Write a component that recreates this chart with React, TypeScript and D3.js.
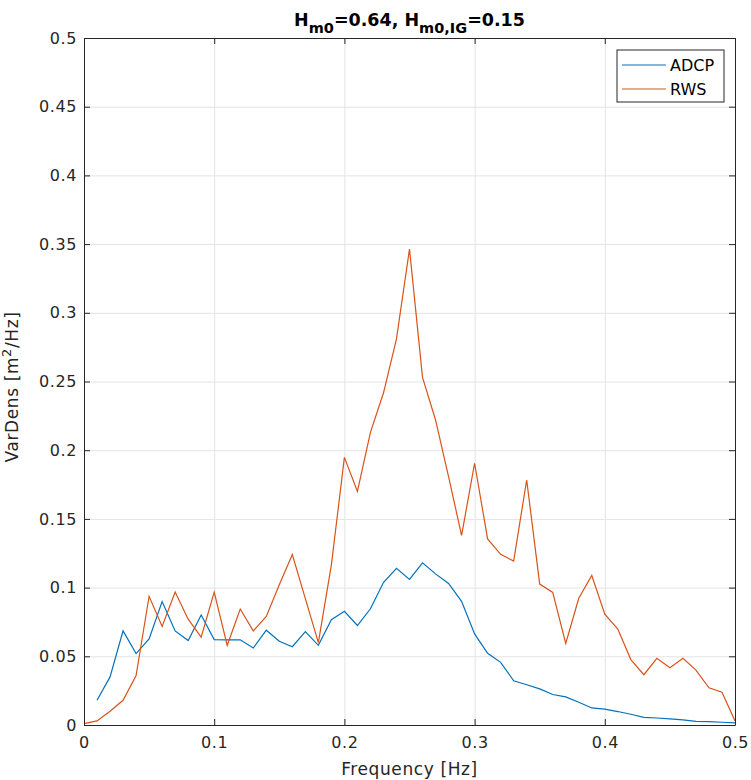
import { useRef, useEffect } from 'react';
import * as d3 from 'd3';

const freqAdcp = d3.range(1, 51).map(i => i / 100);
const freqRws = d3.range(0, 51).map(i => i / 100);

const adcp = [
  0.018, 0.035, 0.0685, 0.052, 0.0627, 0.0898, 0.0685, 0.0615, 0.080, 0.0622,
  0.062, 0.062, 0.056, 0.069, 0.061, 0.057, 0.068, 0.058, 0.0766, 0.0827,
  0.0724, 0.0846, 0.1037, 0.114, 0.106, 0.118, 0.110, 0.103, 0.090, 0.0663,
  0.0522, 0.0456, 0.0322, 0.0293, 0.0263, 0.0222, 0.0205, 0.0166, 0.0124, 0.0115,
  0.0098, 0.0078, 0.0056, 0.0051, 0.0044, 0.0037, 0.0027, 0.0024, 0.002, 0.0015,
];

const rws = [
  0.001, 0.003, 0.010, 0.018, 0.036, 0.0937, 0.0717, 0.0968, 0.077, 0.064,
  0.0968, 0.058, 0.0844, 0.0685, 0.079, 0.102, 0.124, 0.092, 0.060, 0.1165,
  0.1948, 0.170, 0.213, 0.2416, 0.281, 0.3464, 0.253, 0.222, 0.1807, 0.138,
  0.1905, 0.1354, 0.1242, 0.1193, 0.1783, 0.1026, 0.0965, 0.0593, 0.0922, 0.1088,
  0.0807, 0.0698, 0.0476, 0.0366, 0.0485, 0.0417, 0.0485, 0.040, 0.0271, 0.0239,
  0.003,
];

const xTicks = [0, 0.1, 0.2, 0.3, 0.4, 0.5];
const yTicks = d3.range(0, 11).map(i => i * 0.05);

const C_ADCP = '#0072BD';
const C_RWS = '#D95319';
const AX = '#262626';
const FONT = 'DejaVu Sans, Verdana, sans-serif';

export default function App() {
  const svgRef = useRef<SVGSVGElement>(null);

  useEffect(() => {
    document.body.style.margin = '0';
    if (!svgRef.current) return;
    const margin = { top: 38, right: 16, bottom: 55, left: 84 };
    const W = 751, H = 780;
    const width = W - margin.left - margin.right;
    const height = H - margin.top - margin.bottom;

    const svg = d3.select(svgRef.current);
    svg.selectAll('*').remove();
    const g = svg.append('g').attr('transform', `translate(${margin.left},${margin.top})`);

    const x = d3.scaleLinear().domain([0, 0.5]).range([0, width]);
    const y = d3.scaleLinear().domain([0, 0.5]).range([height, 0]);
    const fmt = (d: d3.NumberValue) => String(+(+d).toFixed(2));

    // grid
    const gx = g.append('g').attr('transform', `translate(0,${height})`)
      .call(d3.axisBottom(x).tickValues(xTicks).tickSize(-height).tickFormat(() => ''));
    const gy = g.append('g')
      .call(d3.axisLeft(y).tickValues(yTicks).tickSize(-width).tickFormat(() => ''));
    [gx, gy].forEach(a => {
      a.select('.domain').remove();
      a.selectAll('line').attr('stroke', '#e3e3e3').attr('stroke-width', 1);
    });

    // spectra
    const lineA = d3.line<number>().x((_, i) => x(freqAdcp[i])).y(d => y(d));
    const lineR = d3.line<number>().x((_, i) => x(freqRws[i])).y(d => y(d));
    g.append('path').datum(adcp).attr('d', lineA).attr('fill', 'none').attr('stroke', C_ADCP).attr('stroke-width', 1.2);
    g.append('path').datum(rws).attr('d', lineR).attr('fill', 'none').attr('stroke', C_RWS).attr('stroke-width', 1.2);

    // axes, ticks inward, box on
    const bottom = g.append('g').attr('transform', `translate(0,${height})`)
      .call(d3.axisBottom(x).tickValues(xTicks).tickSizeInner(-6).tickSizeOuter(0).tickPadding(12).tickFormat(fmt));
    const left = g.append('g')
      .call(d3.axisLeft(y).tickValues(yTicks).tickSizeInner(-6).tickSizeOuter(0).tickPadding(7).tickFormat(fmt));
    const top = g.append('g')
      .call(d3.axisTop(x).tickValues(xTicks).tickSizeInner(-6).tickSizeOuter(0).tickFormat(() => ''));
    const right = g.append('g').attr('transform', `translate(${width},0)`)
      .call(d3.axisRight(y).tickValues(yTicks).tickSizeInner(-6).tickSizeOuter(0).tickFormat(() => ''));
    [bottom, left, top, right].forEach(a => {
      a.select('.domain').attr('stroke', AX).attr('stroke-width', 1);
      a.selectAll('line').attr('stroke', AX);
      a.selectAll('text').attr('fill', AX).attr('font-size', 16).attr('letter-spacing', 0.6).attr('font-family', FONT);
    });

    // legend
    const lg = g.append('g').attr('transform', `translate(${width - 118},12)`);
    lg.append('rect').attr('width', 107).attr('height', 52).attr('fill', '#fff').attr('stroke', '#262626').attr('stroke-width', 1);
    [['ADCP', C_ADCP], ['RWS', C_RWS]].forEach(([name, col], i) => {
      const yy = 15 + i * 24;
      lg.append('line').attr('x1', 5).attr('x2', 49).attr('y1', yy).attr('y2', yy).attr('stroke', col).attr('stroke-width', 1.2);
      lg.append('text').attr('x', 53).attr('y', yy).attr('dy', '0.35em').attr('fill', '#000')
        .attr('font-size', 16).attr('font-family', FONT).text(name);
    });

    // title
    const t = svg.append('text').attr('x', margin.left + width / 2).attr('y', 26)
      .attr('text-anchor', 'middle').attr('font-family', FONT).attr('font-size', 17.5)
      .attr('font-weight', 'bold').attr('fill', '#000');
    t.append('tspan').text('H');
    t.append('tspan').attr('dy', 6.5).attr('font-size', 14.5).text('m0');
    t.append('tspan').attr('dy', -6.5).text('=0.64, H');
    t.append('tspan').attr('dy', 6.5).attr('font-size', 14.5).text('m0,IG');
    t.append('tspan').attr('dy', -6.5).text('=0.15');

    // x label
    svg.append('text').attr('x', margin.left + width / 2).attr('y', 775)
      .attr('text-anchor', 'middle').attr('font-family', FONT).attr('font-size', 17)
      .attr('letter-spacing', 0.6).attr('fill', AX)
      .text('Frequency [Hz]');

    // y label
    const yl = svg.append('text').attr('transform', `translate(18,387) rotate(-90)`)
      .attr('text-anchor', 'middle').attr('font-family', FONT).attr('font-size', 17)
      .attr('letter-spacing', 0.6).attr('fill', AX);
    yl.append('tspan').text('VarDens [m');
    yl.append('tspan').attr('dy', -7).attr('font-size', 13).text('2');
    yl.append('tspan').attr('dy', 7).text('/Hz]');
  }, []);

  return <svg ref={svgRef} width={751} height={780} style={{ display: 'block', background: '#fff' }} />;
}
